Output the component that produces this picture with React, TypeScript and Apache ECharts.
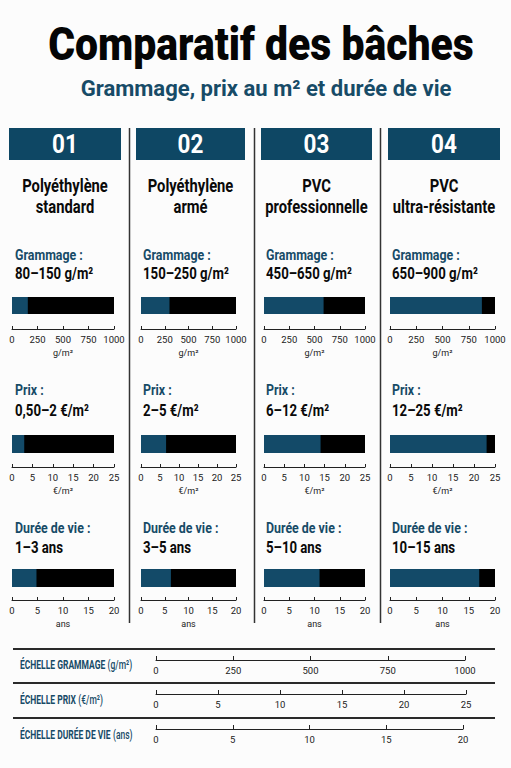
import React, { useEffect, useRef } from 'react';
import * as echarts from 'echarts';

// ---------- data ----------
const columnNumbers = ['01', '02', '03', '04'];
const materialLine1 = ['Polyéthylène', 'Polyéthylène', 'PVC', 'PVC'];
const materialLine2 = ['standard', 'armé', 'professionnelle', 'ultra-résistante'];
const grammageLabels = ['80–150 g/m²', '150–250 g/m²', '450–650 g/m²', '650–900 g/m²'];
const prixLabels = ['0,50–2 €/m²', '2–5 €/m²', '6–12 €/m²', '12–25 €/m²'];
const dureeLabels = ['1–3 ans', '3–5 ans', '5–10 ans', '10–15 ans'];
const grammageValues = [155, 300, 590, 875];
const prixValues = [3, 6.6, 14, 23];
const dureeValues = [4.8, 6.3, 11, 17];
const metricTitles = ['Grammage :', 'Prix :', 'Durée de vie :'];
const metricUnits = ['g/m²', '€/m²', 'ans'];
const metricMax = [1000, 25, 20];
const metricInterval = [250, 5, 5];
const scaleTitles = ['ÉCHELLE GRAMMAGE', 'ÉCHELLE PRIX', 'ÉCHELLE DURÉE DE VIE'];
const scaleUnits = ['(g/m²)', '(€/m²)', '(ans)'];
const title = 'Comparatif des bâches';
const subtitle = 'Grammage, prix au m² et durée de vie';

// ---------- layout / style ----------
const HEADER_BLUE = '#0e4764';
const BAR_BLUE = '#134a68';
const TEXT_BLUE = '#174b67';
const FONT = 'Roboto';
const colHeaderLeft = [9, 136, 261, 388];
const colHeaderWidth = [112, 109, 111, 112];
const colTextLeft = [15, 143, 266, 392];
const colAxisStart = [12, 141, 264, 390];
const colAxisEnd = [114, 236, 365, 495];
const rowLabelY = [254, 389, 527];
const rowValueY = [273, 410, 547];
const rowBarTop = [297, 435, 569];
const rowBarH = [17, 18, 18];
const rowAxisY = [329, 467, 600];
const scaleLineY = [660, 694, 729];
const scaleStart = 156;
const scaleEnd = [465, 466, 463];
const scaleTitleY = [665, 700, 735];
const dividerY = [649, 683, 718];
const separatorX = [129.5, 254.5, 380.5];

function ctext(text: string, x: number, y: number, size: number, color: string, align = 'left', scale = 0.84, weight: any = 'bold') {
  return {
    type: 'text',
    x,
    y,
    scaleX: scale,
    silent: true,
    style: { text, x: 0, y: 0, fill: color, fontSize: size, fontWeight: weight, fontFamily: FONT, align, verticalAlign: 'middle' },
  };
}

const plain = (v: number) => String(v);

function buildOption() {
  const grid: any[] = [];
  const xAxis: any[] = [];
  const yAxis: any[] = [];
  const series: any[] = [];
  const graphic: any[] = [];
  const valueRows = [grammageValues, prixValues, dureeValues];
  const labelRows = [grammageLabels, prixLabels, dureeLabels];

  graphic.push(ctext(title, 261, 44, 47, '#050505', 'center', 0.87, 900));
  graphic.push(ctext(subtitle, 266, 88, 22.5, TEXT_BLUE, 'center', 0.98, 'bold'));

  for (let c = 0; c < 4; c++) {
    graphic.push({
      type: 'rect', silent: true,
      shape: { x: colHeaderLeft[c], y: 128, width: colHeaderWidth[c], height: 32 },
      style: { fill: HEADER_BLUE },
    });
    const cx = colHeaderLeft[c] + colHeaderWidth[c] / 2;
    graphic.push(ctext(columnNumbers[c], cx, 145, 25, '#ffffff', 'center', 0.9, 'bold'));
    graphic.push(ctext(materialLine1[c], cx, 186, 18, '#0a0a0a', 'center', 0.82, 'bold'));
    graphic.push(ctext(materialLine2[c], cx, 207, 18, '#0a0a0a', 'center', 0.82, 'bold'));

    for (let m = 0; m < 3; m++) {
      graphic.push(ctext(metricTitles[m], colTextLeft[c], rowLabelY[m], 15.5, TEXT_BLUE, 'left', 0.8, 'bold'));
      graphic.push(ctext(labelRows[m][c], colTextLeft[c], rowValueY[m], 16.5, '#0a0a0a', 'left', 0.8, 'bold'));

      const idx = grid.length;
      grid.push({
        left: colAxisStart[c],
        width: colAxisEnd[c] - colAxisStart[c],
        top: rowBarTop[m],
        height: rowBarH[m],
      });
      yAxis.push({ type: 'category', gridIndex: idx, data: ['v'], show: false });
      xAxis.push({
        type: 'value', gridIndex: idx, min: 0, max: metricMax[m], interval: metricInterval[m],
        position: 'bottom',
        offset: rowAxisY[m] - (rowBarTop[m] + rowBarH[m]),
        axisLine: { show: true, lineStyle: { color: '#222', width: 1 } },
        axisTick: { show: true, inside: true, length: 3, lineStyle: { color: '#222' } },
        axisLabel: { fontSize: 9.5, color: '#222', margin: 5, fontFamily: FONT, formatter: plain },
        splitLine: { show: false },
        name: metricUnits[m], nameLocation: 'middle', nameGap: 19,
        nameTextStyle: { fontSize: 9, color: '#222', fontFamily: FONT },
      });
      series.push({
        type: 'bar', xAxisIndex: idx, yAxisIndex: idx,
        data: [valueRows[m][c]],
        barWidth: rowBarH[m],
        showBackground: true,
        backgroundStyle: { color: '#000000', opacity: 1 },
        itemStyle: { color: BAR_BLUE },
        silent: true,
      });
    }
  }

  for (const sx of separatorX) {
    graphic.push({
      type: 'line', silent: true,
      shape: { x1: sx, y1: 128, x2: sx, y2: 623 },
      style: { stroke: '#333', lineWidth: 1.5 },
    });
  }

  for (let s = 0; s < 3; s++) {
    graphic.push({
      type: 'line', silent: true,
      shape: { x1: 13, y1: dividerY[s], x2: 495, y2: dividerY[s] },
      style: { stroke: '#2a2a2a', lineWidth: 2 },
    });
    graphic.push({
      type: 'text', x: 20, y: scaleTitleY[s], scaleX: 0.68, silent: true,
      style: {
        text: '{b|' + scaleTitles[s] + '} {n|' + scaleUnits[s] + '}',
        x: 0, y: 0, verticalAlign: 'middle', align: 'left',
        rich: {
          b: { fontSize: 12.5, fontWeight: 'bold', fill: TEXT_BLUE, fontFamily: FONT },
          n: { fontSize: 12.5, fontWeight: 500, fill: TEXT_BLUE, fontFamily: FONT },
        },
      },
    });
    const idx = grid.length;
    grid.push({ left: scaleStart, width: scaleEnd[s] - scaleStart, top: scaleLineY[s] - 10, height: 10 });
    yAxis.push({ type: 'value', gridIndex: idx, show: false, min: 0, max: 1 });
    xAxis.push({
      type: 'value', gridIndex: idx, min: 0, max: metricMax[s], interval: metricInterval[s],
      position: 'bottom',
      axisLine: { show: true, lineStyle: { color: '#222', width: 1 } },
      axisTick: { show: true, inside: true, length: 4, lineStyle: { color: '#222' } },
      axisLabel: { fontSize: 9.5, color: '#222', margin: 5, fontFamily: FONT, formatter: plain },
      splitLine: { show: false },
    });
  }

  return { animation: false, backgroundColor: '#fcfcfc', grid, xAxis, yAxis, series, graphic };
}

export default function App() {
  const ref = useRef<HTMLDivElement>(null);
  useEffect(() => {
    const chart = echarts.init(ref.current!, null, { renderer: 'svg' });
    chart.setOption(buildOption() as any);
    return () => chart.dispose();
  }, []);
  return (
    <div
      ref={ref}
      style={{ position: 'fixed', left: 0, top: 0, width: 511, height: 768, background: '#fcfcfc' }}
    />
  );
}
